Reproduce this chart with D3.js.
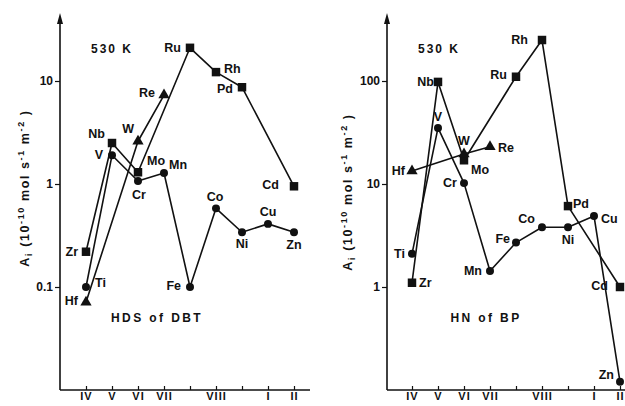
<!DOCTYPE html>
<html><head><meta charset="utf-8">
<script src="https://cdn.jsdelivr.net/npm/d3@7"></script>
<style>
html,body{margin:0;padding:0;background:#fff;}
svg text{font-family:"Liberation Sans",Arial,sans-serif;font-weight:bold;fill:#111;}
</style></head>
<body><svg id="c" width="625" height="406"></svg>
<script>
// ---- data ----
const groupTicks = ["IV","V","VI","VII","","VIII","","I","II"];
const row4Names = ["Zr","Nb","Mo","Ru","Rh","Pd","Cd"];
const row4Cols  = [0,1,2,4,5,6,8];
const row3Names = ["Ti","V","Cr","Mn","Fe","Co","Ni","Cu","Zn"];
const row3Cols  = [0,1,2,3,4,5,6,7,8];
const row5Names = ["Hf","W","Re"];
const row5Cols  = [0,2,3];

const hdsRow4 = [0.22, 2.5, 1.3, 21, 12.2, 8.7, 0.95];
const hdsRow3 = [0.1, 1.9, 1.07, 1.28, 0.1, 0.58, 0.34, 0.41, 0.34];
const hdsRow5 = [0.071, 2.6, 7.3];
const hdsTicks = [0.1, 1, 10];

const hnRow4 = [1.1, 98, 17, 110, 250, 6.1, 1.0];
const hnRow3 = [2.1, 35, 10.2, 1.43, 2.7, 3.8, 3.8, 4.9, 0.12];
const hnRow5 = [13.4, 19.6, 23];
const hnTicks = [1, 10, 100];

// ---- label placement (style) ----
const hdsLabelPos = {
  Zr:[-8,4,"end"], Nb:[-7,-5,"end"], Mo:[9,-7,"start"], Ru:[-9,4,"end"], Rh:[8,1,"start"],
  Pd:[-9,6,"end"], Cd:[-15,3,"end"],
  Ti:[9,0,"start"], V:[-9,4,"end"], Cr:[1,18,"middle"], Mn:[5,-4,"start"], Fe:[-9,3,"end"],
  Co:[-1,-7,"middle"], Ni:[0,16,"middle"], Cu:[0,-8,"middle"], Zn:[0,17,"middle"],
  Hf:[-8,3,"end"], W:[-4,-8,"end"], Re:[-9,2,"end"]
};
const hnLabelPos = {
  Zr:[7,4,"start"], Nb:[-4,4,"end"], Mo:[7,14,"start"], Ru:[-9,2,"end"], Rh:[-14,4,"end"],
  Pd:[5,2,"start"], Cd:[-12,3,"end"],
  Ti:[-7,4,"end"], V:[0,-7,"middle"], Cr:[-7,4,"end"], Mn:[-8,4,"end"], Fe:[-6,0,"end"],
  Co:[-7,-4,"end"], Ni:[0,17,"middle"], Cu:[7,7,"start"], Zn:[-6,-3,"end"],
  Hf:[-7,4,"end"], W:[0,-9,"middle"], Re:[8,5,"start"]
};

const svg = d3.select("#c");

function panel(cfg){
  const g = svg.append("g");
  const x = d3.scaleLinear().domain([0,8]).range(cfg.xr);
  const y = d3.scaleLog().domain(cfg.yd).range([390,81]);
  const ax = cfg.axisX;
  // y axis with arrow
  g.append("line").attr("x1",ax).attr("x2",ax).attr("y1",390).attr("y2",20)
    .attr("stroke","#111").attr("stroke-width",1.6);
  g.append("path").attr("d",`M${ax},13 L${ax-3},24 L${ax+3},24 Z`).attr("fill","#111");
  // x axis
  g.append("line").attr("x1",ax).attr("x2",cfg.xEnd).attr("y1",390).attr("y2",390)
    .attr("stroke","#111").attr("stroke-width",1.6);
  // y ticks
  const ya = d3.axisLeft(y).tickValues(cfg.ticks).tickSize(5).tickPadding(2)
    .tickFormat(d => d < 1 ? d3.format(".1f")(d) : d3.format("d")(d));
  const yg = g.append("g").attr("transform",`translate(${ax},0)`).call(ya);
  yg.select(".domain").remove();
  yg.selectAll("line").attr("stroke","#111").attr("stroke-width",1.2);
  yg.selectAll("text").attr("font-size",12).style("font-family","Liberation Sans, Arial, sans-serif").style("font-weight","bold").attr("fill","#111");
  // x ticks (pointing up)
  const xa = d3.axisBottom(x).tickValues(d3.range(9)).tickSize(-4).tickPadding(2)
    .tickFormat((d,i) => groupTicks[i]);
  const xg = g.append("g").attr("transform","translate(0,390)").call(xa);
  xg.select(".domain").remove();
  xg.selectAll("line").attr("stroke","#111").attr("stroke-width",1.2);
  xg.selectAll("text").attr("font-size",11).attr("letter-spacing",1)
    .style("font-family","Liberation Sans, Arial, sans-serif").style("font-weight","bold").attr("fill","#111");

  const line = d3.line().x(d=>x(d.c)).y(d=>y(d.v));
  const series = [
    {names:row3Names, cols:row3Cols, vals:cfg.r3, shape:"circle"},
    {names:row4Names, cols:row4Cols, vals:cfg.r4, shape:"square"},
    {names:row5Names, cols:row5Cols, vals:cfg.r5, shape:"triangle"}
  ];
  series.forEach(s=>{
    const pts = s.vals.map((v,i)=>({v, c:s.cols[i], n:s.names[i]}));
    g.append("path").datum(pts).attr("d",line).attr("fill","none")
      .attr("stroke","#111").attr("stroke-width",1.6).attr("stroke-linejoin","round");
    const sym = s.shape==="circle" ? d3.symbolCircle : s.shape==="square" ? d3.symbolSquare : d3.symbolTriangle;
    const size = s.shape==="circle" ? 50 : s.shape==="square" ? 72 : 55;
    g.selectAll(null).data(pts).enter().append("path")
      .attr("d", d3.symbol().type(sym).size(size))
      .attr("transform", d=>`translate(${x(d.c)},${y(d.v)})`)
      .attr("fill","#111");
    g.selectAll(null).data(pts).enter().append("text")
      .attr("x", d=>x(d.c)+cfg.lp[d.n][0])
      .attr("y", d=>y(d.v)+cfg.lp[d.n][1])
      .attr("text-anchor", d=>cfg.lp[d.n][2])
      .attr("font-size",12.5)
      .text(d=>d.n);
  });
  // annotations
  g.append("text").attr("x",cfg.kx).attr("y",53).attr("font-size",12)
    .attr("letter-spacing",2).text("530 K");
  g.append("text").attr("x",cfg.tx).attr("y",322).attr("text-anchor","middle")
    .attr("font-size",12).attr("letter-spacing",2.4).text(cfg.title);
  const yl = g.append("text").attr("transform",`translate(${cfg.ylx},${cfg.yly}) rotate(-90)`)
    .attr("text-anchor","middle").attr("font-size",12.5).attr("letter-spacing",1.6);
  yl.append("tspan").text("A");
  yl.append("tspan").attr("dy",3).attr("font-size",9).text("i");
  yl.append("tspan").attr("dy",-3).text("  (10");
  yl.append("tspan").attr("dy",-5).attr("font-size",9).text("-10");
  yl.append("tspan").attr("dy",5).text(" mol s");
  yl.append("tspan").attr("dy",-5).attr("font-size",9).text("-1");
  yl.append("tspan").attr("dy",5).text(" m");
  yl.append("tspan").attr("dy",-5).attr("font-size",9).text("-2");
  yl.append("tspan").attr("dy",5).text(" )");
}

panel({xr:[86,294], yd:[0.01,10], axisX:60, xEnd:310, ticks:hdsTicks,
  r3:hdsRow3, r4:hdsRow4, r5:hdsRow5, lp:hdsLabelPos,
  kx:91, tx:157, title:"HDS of DBT", ylx:29, yly:188});
panel({xr:[412,620], yd:[0.1,100], axisX:387, xEnd:625, ticks:hnTicks,
  r3:hnRow3, r4:hnRow4, r5:hnRow5, lp:hnLabelPos,
  kx:418, tx:486, title:"HN of BP", ylx:352, yly:192});
</script></body></html>
